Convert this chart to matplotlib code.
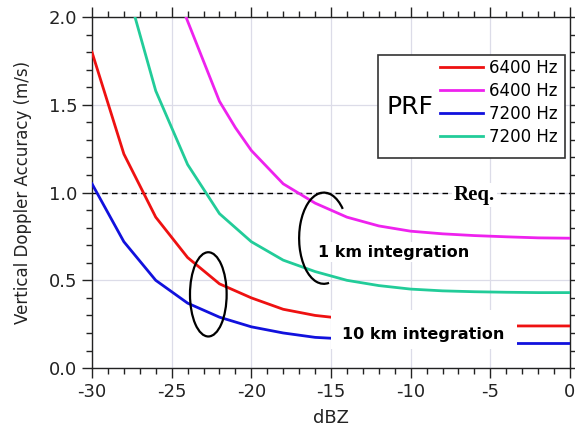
import numpy as np
import matplotlib
matplotlib.use("Agg")
import matplotlib.pyplot as plt
from matplotlib.patches import Ellipse, Arc, Rectangle
from matplotlib.ticker import MultipleLocator

# values
dbz_red = [-30, -28, -26, -24, -22, -20, -18, -16, -14, -12, -10, -8, -6, -4, -2, 0]
acc_red = [1.80, 1.22, 0.86, 0.63, 0.48, 0.40, 0.335, 0.30, 0.28, 0.265, 0.255, 0.25, 0.245, 0.24, 0.24, 0.24]

dbz_blue = [-30, -28, -26, -24, -22, -20, -18, -16, -14, -12, -10, -8, -6, -4, -2, 0]
acc_blue = [1.05, 0.72, 0.50, 0.37, 0.29, 0.235, 0.20, 0.175, 0.165, 0.155, 0.15, 0.145, 0.142, 0.14, 0.14, 0.14]

dbz_green = [-27.3, -26, -25, -24, -22, -20, -18, -16, -14, -12, -10, -8, -6, -4, -2, 0]
acc_green = [2.0, 1.58, 1.37, 1.16, 0.88, 0.72, 0.615, 0.55, 0.50, 0.47, 0.45, 0.44, 0.435, 0.432, 0.43, 0.43]

dbz_mag = [-24.1, -22, -21, -20, -18, -16, -14, -12, -10, -8, -6, -4, -2, 0]
acc_mag = [2.0, 1.52, 1.37, 1.24, 1.05, 0.94, 0.86, 0.81, 0.78, 0.765, 0.755, 0.748, 0.742, 0.74]

labels = ["6400 Hz", "6400 Hz", "7200 Hz", "7200 Hz"]
req_level = 1.0

plt.rcParams['font.family'] = 'DejaVu Sans'
plt.rcParams['axes.unicode_minus'] = False
fig = plt.figure(figsize=(5.75, 4.32), dpi=100)
ax = fig.add_axes([0.16, 0.148, 0.8313, 0.8124])

ax.grid(True, color='#dcdce8', lw=0.9, zorder=0)
ax.set_axisbelow(True)

l1, = ax.plot(dbz_red, acc_red, color='#ee1111', lw=2, zorder=3)
l2, = ax.plot(dbz_mag, acc_mag, color='#ee22ee', lw=2, zorder=3)
l3, = ax.plot(dbz_blue, acc_blue, color='#1111dd', lw=2, zorder=3)
l4, = ax.plot(dbz_green, acc_green, color='#22cc99', lw=2, zorder=3)

ax.axhline(req_level, color='black', lw=1, ls=(0, (4, 3)), zorder=2)
ax.text(-6.0, 0.985, "Req.", family='Liberation Serif', fontweight='bold', fontsize=15,
        ha='center', va='center', zorder=4,
        bbox=dict(facecolor='white', edgecolor='none', pad=1.5))

# annotations
ax.text(-11.1, 0.66, "1 km integration", fontweight='bold', fontsize=11.5,
        ha='center', va='center', zorder=4,
        bbox=dict(facecolor='white', edgecolor='none', pad=2))
ax.add_patch(Rectangle((-15.0, 0.11), 11.7, 0.22, facecolor='white', edgecolor='none', zorder=3.5))
ax.text(-9.2, 0.19, "10 km integration", fontweight='bold', fontsize=11.5,
        ha='center', va='center', zorder=4)

ax.add_patch(Arc((-15.45, 0.74), 3.1, 0.52, theta1=8, theta2=322, color='black', lw=1.6, zorder=5))
ax.add_patch(Ellipse((-22.7, 0.42), 2.3, 0.48, fill=False, edgecolor='black', lw=1.6, zorder=5))

ax.set_xlim(-30, 0)
ax.set_ylim(0, 2.0)
ax.xaxis.set_major_locator(MultipleLocator(5))
ax.xaxis.set_minor_locator(MultipleLocator(1))
ax.yaxis.set_major_locator(MultipleLocator(0.5))
ax.yaxis.set_minor_locator(MultipleLocator(0.1))
ax.yaxis.set_major_formatter(matplotlib.ticker.FormatStrFormatter('%.1f'))
ax.tick_params(which='both', direction='out', top=True, right=True, labelsize=13,
               colors='#222222', width=1)
ax.tick_params(which='major', length=7)
ax.tick_params(which='minor', length=4)
for s in ax.spines.values():
    s.set_color('#222222')
    s.set_linewidth(1)

ax.set_xlabel("dBZ", fontsize=13, color='#222222', labelpad=6)
ax.set_ylabel("Vertical Doppler Accuracy (m/s)", fontsize=12, color='#222222', labelpad=12)

# legend with PRF label
leg = ax.legend([l1, l2, l3, l4], labels, loc='upper right', bbox_to_anchor=(0.988, 0.901),
                frameon=False, fontsize=12, handlelength=2.6, handletextpad=0.35,
                labelspacing=0.3, borderaxespad=0)
leg.set_zorder(6)
ax.add_patch(Rectangle((0.598, 0.598), 0.392, 0.295, transform=ax.transAxes,
                       facecolor='white', edgecolor='#333333', lw=1.2, zorder=5.5))
ax.text(0.665, 0.745, "PRF", transform=ax.transAxes, fontsize=18, ha='center', va='center', zorder=6)

fig.savefig("out.png", dpi=100)
